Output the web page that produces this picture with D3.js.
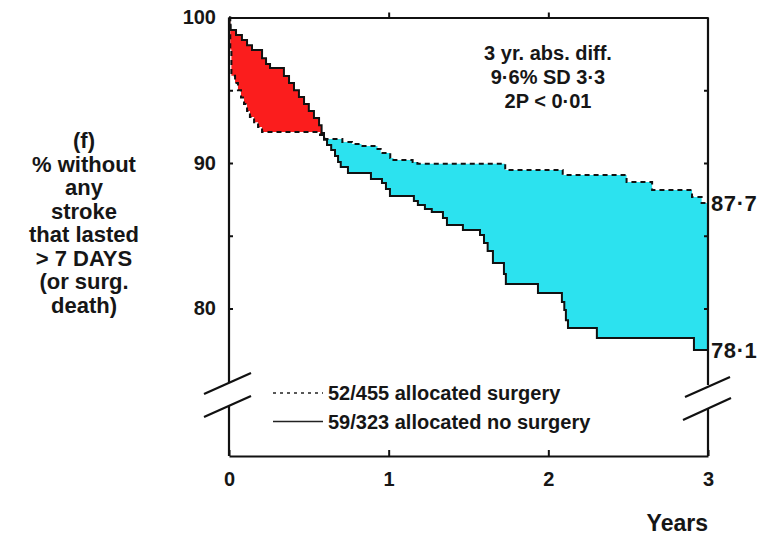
<!DOCTYPE html>
<html>
<head>
<meta charset="utf-8">
<script src="https://cdn.jsdelivr.net/npm/d3@7"></script>
<style>
    body { margin: 0; background: #fff; }
    svg text { font-family: "Liberation Sans", Arial, Helvetica, sans-serif; font-weight: bold; fill: #161616; }
</style>
</head>
<body>
<div id="chart"></div>
<script>
// Data
const years = [0, 1, 2, 3];
const yTicks = [80, 85, 90, 95, 100];
const yTickLabels = [80, 90, 100];

// [years, % event-free] - dashed curve
const surgerySteps = [
    [0, 100], [0.008, 97.8], [0.015, 96.0], [0.038, 95.5], [0.056, 95.0], [0.075, 94.5],
    [0.094, 94.05], [0.113, 93.57], [0.131, 93.16], [0.157, 92.8], [0.182, 92.47],
    [0.207, 92.13], [0.57, 91.92], [0.60, 91.65], [0.71, 91.44], [0.77, 91.31],
    [0.83, 91.17], [0.93, 90.96], [0.95, 90.69], [1.01, 90.34], [1.03, 90.2],
    [1.15, 90.07], [1.18, 89.95], [1.73, 89.52], [2.09, 89.18], [2.49, 88.69],
    [2.65, 88.14], [2.90, 87.66], [2.96, 87.25], [3.0, 87.25]
];

// [years, % event-free] - solid curve
const noSurgerySteps = [
    [0, 100], [0.003, 99.5], [0.01, 99.14], [0.044, 98.8], [0.081, 98.45], [0.113, 98.1],
    [0.144, 97.77], [0.207, 97.2], [0.232, 96.8], [0.257, 96.53], [0.344, 95.98],
    [0.376, 95.5], [0.407, 95.0], [0.438, 94.54], [0.47, 94.05], [0.50, 93.57],
    [0.532, 93.1], [0.564, 92.6], [0.58, 92.06], [0.595, 91.6], [0.614, 91.24],
    [0.64, 90.9], [0.664, 90.48], [0.683, 90.07], [0.70, 89.73], [0.745, 89.31],
    [0.889, 88.9], [0.958, 88.63], [0.983, 88.21], [1.008, 87.73], [1.158, 87.39],
    [1.183, 87.11], [1.227, 86.84], [1.27, 86.63], [1.34, 86.22], [1.365, 85.74],
    [1.465, 85.4], [1.572, 85.05], [1.597, 84.5], [1.62, 83.95], [1.653, 83.13],
    [1.722, 82.37], [1.734, 81.68], [1.935, 81.07], [2.085, 80.45], [2.10, 79.9],
    [2.11, 79.2], [2.123, 78.66], [2.304, 77.97], [2.912, 77.15], [3.0, 77.15]
];

const crossTime = 0.595;
const endLabels = ["87·7", "78·1"];
const legendLabels = ["52/455 allocated surgery", "59/323 allocated no surgery"];
const titleLines = ["(f)", "% without", "any", "stroke", "that lasted", "> 7 DAYS", "(or surg.", "death)"];
const noteLines = ["3 yr. abs. diff.", "9·6% SD 3·3", "2P < 0·01"];

const RED = "#fb1d1d";
const CYAN = "#2ce2ef";

function stepAt(steps, t) {
    let v = steps[0][1];
    steps.forEach(d => { if (d[0] <= t) v = d[1]; });
    return v;
}

const width = 764, height = 536;
const xAxisY = 456;

const svg = d3.select("#chart").append("svg")
    .attr("width", width)
    .attr("height", height);

const x = d3.scaleLinear().domain([0, 3]).range([229, 708]);
const y = d3.scaleLinear().domain([80, 100]).range([308.5, 17.5]);

// Shaded difference between the curves
const times = Array.from(new Set(surgerySteps.map(d => d[0]).concat(noSurgerySteps.map(d => d[0])))).sort((a, b) => a - b);
const rows = times.map(t => ({ t: t, s: stepAt(surgerySteps, t), n: stepAt(noSurgerySteps, t) }));

const area = d3.area()
    .x(d => x(d.t))
    .y0(d => y(d.s))
    .y1(d => y(d.n))
    .curve(d3.curveStepAfter);

svg.append("path")
    .datum(rows.filter(d => d.t <= crossTime))
    .attr("d", area)
    .attr("fill", RED);

svg.append("path")
    .datum(rows.filter(d => d.t >= crossTime))
    .attr("d", area)
    .attr("fill", CYAN);

// Curves
const line = d3.line()
    .x(d => x(d[0]))
    .y(d => y(d[1]))
    .curve(d3.curveStepAfter);

svg.append("path")
    .datum(surgerySteps)
    .attr("d", line)
    .attr("fill", "none")
    .attr("stroke", "#111")
    .attr("stroke-width", 2)
    .attr("stroke-dasharray", "5,4");

svg.append("path")
    .datum(noSurgerySteps)
    .attr("d", line)
    .attr("fill", "none")
    .attr("stroke", "#111")
    .attr("stroke-width", 2);

// Axes
const styleAxis = g => {
    g.attr("font-size", 20);
    g.selectAll("line").attr("stroke", "#111").attr("stroke-width", 2);
    g.selectAll(".domain").attr("stroke", "#111").attr("stroke-width", 2.2);
};

svg.append("g")
    .attr("transform", `translate(0,${xAxisY})`)
    .call(d3.axisBottom(x).tickValues(years).tickSizeInner(-6).tickSizeOuter(0).tickPadding(16)
        .tickFormat(d3.format("d")))
    .call(styleAxis);

svg.append("g")
    .attr("transform", `translate(0,${y(100)})`)
    .call(d3.axisTop(x).tickValues([1, 2]).tickSizeInner(5).tickSizeOuter(0).tickFormat(""))
    .call(styleAxis);

svg.append("g")
    .attr("transform", `translate(${x(0)},0)`)
    .call(d3.axisLeft(y).tickValues(yTicks).tickSizeInner(-4).tickPadding(13)
        .tickFormat(d => yTickLabels.includes(d) ? d : ""))
    .call(g => g.select(".domain").remove())
    .call(styleAxis);

svg.append("g")
    .attr("transform", `translate(${x(3)},0)`)
    .call(d3.axisRight(y).tickValues(yTicks).tickSizeInner(-4).tickFormat(""))
    .call(g => g.select(".domain").remove())
    .call(styleAxis);

// Broken vertical axes
const axisSegments = [
    [x(0), y(100), x(0), 383], [x(0), 406, x(0), xAxisY],
    [x(3), y(100), x(3), 385], [x(3), 408, x(3), xAxisY],
    [204, 394, 251, 373], [204, 417, 251, 396],
    [685, 397, 730, 377], [683, 420, 731, 398]
];
svg.selectAll(".axis-seg")
    .data(axisSegments)
    .enter().append("line")
    .attr("class", "axis-seg")
    .attr("x1", d => d[0]).attr("y1", d => d[1])
    .attr("x2", d => d[2]).attr("y2", d => d[3])
    .attr("stroke", "#111")
    .attr("stroke-width", 2.2);

// End values
svg.selectAll(".end-label")
    .data([surgerySteps[surgerySteps.length - 1][1], noSurgerySteps[noSurgerySteps.length - 1][1]])
    .enter().append("text")
    .attr("class", "end-label")
    .attr("x", x(3) + 3)
    .attr("y", d => y(d))
    .attr("dy", "0.36em")
    .attr("font-size", 22)
    .attr("letter-spacing", 0.6)
    .text((d, i) => endLabels[i]);

// Y title
svg.append("text")
    .attr("text-anchor", "middle")
    .attr("font-size", 22)
    .selectAll("tspan")
    .data(titleLines)
    .enter().append("tspan")
    .attr("x", 84)
    .attr("y", (d, i) => 148 + i * 23.5)
    .text(d => d);

// Annotation
svg.append("text")
    .attr("text-anchor", "middle")
    .attr("font-size", 20)
    .selectAll("tspan")
    .data(noteLines)
    .enter().append("tspan")
    .attr("x", 548)
    .attr("y", (d, i) => 60 + i * 24)
    .text(d => d);

// Legend
const legend = svg.append("g");
legendLabels.forEach((label, i) => {
    const ly = 393 + i * 28.5;
    legend.append("line")
        .attr("x1", 273).attr("x2", 323)
        .attr("y1", ly).attr("y2", ly)
        .attr("stroke", "#222")
        .attr("stroke-width", 1.4)
        .attr("stroke-dasharray", i === 0 ? "3,4" : null);
    legend.append("text")
        .attr("x", 328)
        .attr("y", ly)
        .attr("dy", "0.36em")
        .attr("font-size", 20)
        .text(label);
});

// X title
svg.append("text")
    .attr("x", 708)
    .attr("y", 531)
    .attr("text-anchor", "end")
    .attr("font-size", 23)
    .text("Years");
</script>
</body>
</html>
